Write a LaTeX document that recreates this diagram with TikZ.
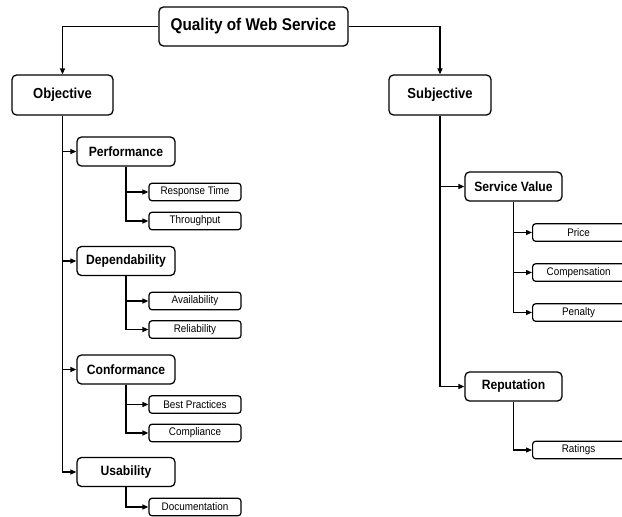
\documentclass[tikz,border=0pt]{standalone}
\usepackage{fontspec}
\usetikzlibrary{arrows.meta}
\newfontfamily\nf[FakeStretch=0.9]{Liberation Sans}
\begin{document}
\begin{tikzpicture}[x=1pt,y=-1pt,
  box/.style={draw=black,line width=1.3pt,rounded corners=4.5pt,fill=white,inner sep=0pt,align=center},
  rootbox/.style={box,minimum width=189pt,minimum height=39pt,font=\nf\bfseries\fontsize{17}{20}\selectfont},
  topbox/.style={box,minimum width=101pt,minimum height=40pt,font=\nf\bfseries\fontsize{14.5}{17}\selectfont},
  midbox/.style={box,minimum width=98pt,minimum height=29pt,font=\nf\bfseries\fontsize{13.5}{16}\selectfont},
  leafbox/.style={box,rounded corners=3pt,line width=1.2pt,minimum width=92pt,minimum height=17.5pt,font=\nf\fontsize{11}{13}\selectfont},
  rleaf/.style={leafbox,minimum width=110pt,anchor=west},
  arr/.style={draw=black,line width=1.3pt,-{Triangle[length=6pt,width=5pt]}}
]
\useasboundingbox (0,0) rectangle (622,517);
\clip (0,0) rectangle (622,517);
\fill[white] (0,0) rectangle (622,517);

% nodes
\node[rootbox] (root) at (253.5,26.5) {Quality of Web Service};
\node[topbox] (obj) at (62.5,95) {Objective};
\node[topbox,minimum width=102pt] (subj) at (440,95) {Subjective};

\node[midbox] (perf) at (126,151.5) {Performance};
\node[midbox] (dep) at (126,261) {Dependability};
\node[midbox] (conf) at (126,369.5) {Conformance};
\node[midbox] (usab) at (126,472) {Usability};

\node[leafbox] (rt) at (195,192) {Response Time};
\node[leafbox] (tp) at (195,221) {Throughput};
\node[leafbox] (av) at (195,301) {Availability};
\node[leafbox] (rel) at (195,329.5) {Reliability};
\node[leafbox] (bp) at (195,404.5) {Best Practices};
\node[leafbox] (comp) at (195,433) {Compliance};
\node[leafbox] (doc) at (195,507) {Documentation};

\node[midbox,minimum width=97pt] (sv) at (513.5,186.5) {Service Value};
\node[midbox,minimum width=97pt] (rep) at (513.5,386.5) {Reputation};

\node[rleaf] (price) at (532,232.5) {\hspace*{-18pt}Price};
\node[rleaf] (cmp) at (532,272.5) {\hspace*{-18pt}Compensation};
\node[rleaf] (pen) at (532,312.5) {\hspace*{-18pt}Penalty};
\node[rleaf] (rat) at (532,450) {\hspace*{-18pt}Ratings};

% connectors
\draw[arr] (root.west) -| (obj.north);
\draw[arr] (root.east) -| (subj.north);

\draw[arr] (obj.south) |- (perf.west);
\draw[arr] (obj.south) |- (dep.west);
\draw[arr] (obj.south) |- (conf.west);
\draw[arr] (obj.south) |- (usab.west);

\draw[arr] (perf.south) |- (rt.west);
\draw[arr] (perf.south) |- (tp.west);
\draw[arr] (dep.south) |- (av.west);
\draw[arr] (dep.south) |- (rel.west);
\draw[arr] (conf.south) |- (bp.west);
\draw[arr] (conf.south) |- (comp.west);
\draw[arr] (usab.south) |- (doc.west);

\draw[arr] (subj.south) |- (sv.west);
\draw[arr] (subj.south) |- (rep.west);

\draw[arr] (sv.south) |- (price.west);
\draw[arr] (sv.south) |- (cmp.west);
\draw[arr] (sv.south) |- (pen.west);
\draw[arr] (rep.south) |- (rat.west);
\end{tikzpicture}
\end{document}
